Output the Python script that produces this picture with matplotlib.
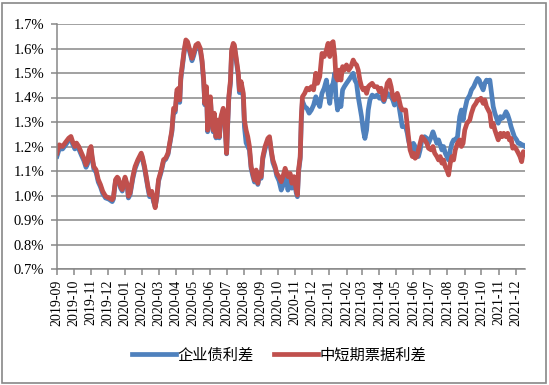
import numpy as np
import pandas as pd
import matplotlib
matplotlib.use('Agg')
import matplotlib.pyplot as plt
import matplotlib.dates as mdates
from matplotlib.patches import Rectangle

plt.rcParams['font.family'] = ['Liberation Serif', 'DejaVu Serif']

# 数据：相对 2019-09-01 的天数，利差（%）
start = pd.Timestamp('2019-09-01')
days = [0, 4, 10, 15, 21, 25, 28, 32, 35, 39, 44, 48, 52, 55, 58, 61, 63, 66, 70, 74,
        78, 82, 87, 93, 99, 101, 105, 108, 110, 114, 117, 119, 122, 126, 128, 131, 136, 140, 145, 151,
        153, 157, 160, 163, 166, 170, 173, 176, 179, 182, 187, 191, 195, 199,
        206, 209, 212, 215, 218, 220, 222, 225, 228, 231, 234, 238, 242, 245, 249, 253, 257, 260, 263, 265,
        268, 270, 273, 275, 277, 280, 282, 285, 288, 291, 294, 298, 301, 304, 306, 308, 311, 313, 316, 318,
        321, 325, 327, 330, 334, 336, 339, 342, 345, 348, 351, 354, 357, 360, 363, 366, 369, 373, 378, 381,
        384, 387, 391, 394, 398, 402, 405, 409,
        414, 418, 421, 425, 429, 431, 433, 436, 438, 440, 444, 448, 452, 456, 460, 464, 467, 471, 475, 479,
        483, 486, 489, 492, 495, 498, 500, 503, 506, 509, 512, 515, 519, 523, 527, 531, 534, 537, 540, 543,
        546, 549, 552, 555, 558, 561, 565, 569, 574, 578, 581, 586, 589, 592, 596, 599, 602, 605, 610, 612,
        616, 619,
        625, 628, 630, 633, 637, 639, 642, 645, 648, 651, 654, 659, 663, 666, 671, 674, 677, 681, 684, 687,
        690, 693, 696, 699, 702, 705, 708, 711, 714, 718, 722, 725, 728, 731, 735, 740, 743, 747, 751, 754,
        757, 760, 764, 767, 770, 773, 776, 779, 782, 785, 788, 791, 795, 798, 801, 805, 808, 811, 814, 817,
        820, 824, 827, 830, 833, 836, 839]

# 企业债利差
corp = [1.160, 1.190, 1.190, 1.205, 1.225, 1.232, 1.210, 1.190, 1.205, 1.190,
        1.163, 1.143, 1.115, 1.130, 1.177, 1.190, 1.150, 1.108, 1.095, 1.055,
        1.035, 1.008, 0.990, 0.985, 0.975, 0.985, 1.060, 1.070, 1.065, 1.030,
        1.018, 1.045, 1.068, 1.036, 0.990, 1.003, 1.070, 1.110, 1.140, 1.165,
        1.152, 1.110, 1.070, 1.030, 0.995, 1.008, 0.975, 0.955, 0.990, 1.058,
        1.098, 1.140, 1.148, 1.168,
        1.260, 1.345, 1.340, 1.420, 1.430, 1.380, 1.475, 1.530, 1.585, 1.625,
        1.620, 1.585, 1.550, 1.570, 1.605, 1.610, 1.590, 1.545, 1.460, 1.370,
        1.435, 1.260, 1.330, 1.395, 1.315, 1.260, 1.330, 1.235, 1.300, 1.235,
        1.315, 1.350, 1.300, 1.170, 1.290, 1.395, 1.460, 1.580, 1.610, 1.605,
        1.555, 1.490, 1.420, 1.455, 1.400, 1.280, 1.215, 1.200, 1.185, 1.110,
        1.080, 1.055, 1.095, 1.045, 1.080, 1.070, 1.150, 1.190, 1.225, 1.230,
        1.180, 1.135, 1.110, 1.080, 1.060, 1.022, 1.040, 1.100,
        1.022, 1.060, 1.030, 1.060, 1.010, 0.995, 1.095, 1.150, 1.310, 1.385,
        1.363, 1.356, 1.336, 1.349, 1.369, 1.403, 1.383, 1.363, 1.417, 1.438,
        1.471, 1.417, 1.376, 1.444, 1.458, 1.499, 1.403, 1.349, 1.390, 1.363,
        1.431, 1.444, 1.458, 1.471, 1.485, 1.499, 1.471, 1.458, 1.403, 1.363,
        1.322, 1.267, 1.233, 1.267, 1.349, 1.390, 1.410, 1.403, 1.410, 1.397,
        1.403, 1.383, 1.403, 1.417, 1.410, 1.403, 1.390, 1.369, 1.390, 1.380,
        1.322, 1.281,
        1.281, 1.254, 1.227, 1.200, 1.186, 1.213, 1.200, 1.173, 1.159, 1.186,
        1.227, 1.240, 1.233, 1.213, 1.240, 1.260, 1.240, 1.213, 1.227, 1.206,
        1.186, 1.200, 1.173, 1.159, 1.145, 1.186, 1.213, 1.227, 1.227, 1.240,
        1.322, 1.349, 1.308, 1.349, 1.390, 1.410, 1.431, 1.444, 1.465, 1.478,
        1.471, 1.451, 1.431, 1.458, 1.471, 1.465, 1.471, 1.417, 1.363, 1.336,
        1.315, 1.295, 1.322, 1.315, 1.322, 1.342, 1.329, 1.308, 1.281, 1.260,
        1.240, 1.227, 1.213, 1.213, 1.206, 1.206, 1.200]

# 中短期票据利差
mtn = [1.173, 1.207, 1.200, 1.216, 1.234, 1.241, 1.220, 1.200, 1.214, 1.200,
       1.173, 1.153, 1.125, 1.140, 1.187, 1.200, 1.159, 1.118, 1.105, 1.065,
       1.044, 1.017, 0.997, 0.990, 0.983, 0.990, 1.065, 1.075, 1.070, 1.037,
       1.024, 1.051, 1.075, 1.044, 0.997, 1.010, 1.078, 1.118, 1.146, 1.173,
       1.159, 1.118, 1.078, 1.037, 1.003, 1.017, 0.983, 0.950, 0.997, 1.065,
       1.105, 1.146, 1.153, 1.173,
       1.267, 1.356, 1.349, 1.431, 1.438, 1.390, 1.485, 1.539, 1.594, 1.635,
       1.628, 1.594, 1.560, 1.580, 1.614, 1.621, 1.600, 1.553, 1.471, 1.376,
       1.444, 1.267, 1.336, 1.403, 1.322, 1.267, 1.336, 1.240, 1.308, 1.240,
       1.322, 1.356, 1.308, 1.172, 1.295, 1.403, 1.471, 1.594, 1.621, 1.614,
       1.567, 1.499, 1.431, 1.465, 1.417, 1.308, 1.267, 1.240, 1.200, 1.118,
       1.090, 1.063, 1.104, 1.050, 1.090, 1.077, 1.158, 1.200, 1.233, 1.240,
       1.186, 1.145, 1.118, 1.090, 1.077, 1.056, 1.077, 1.111,
       1.077, 1.090, 1.050, 1.077, 1.022, 1.002, 1.104, 1.158, 1.322, 1.403,
       1.417, 1.438, 1.431, 1.444, 1.431, 1.499, 1.458, 1.485, 1.580, 1.567,
       1.594, 1.621, 1.567, 1.621, 1.628, 1.567, 1.485, 1.471, 1.512, 1.471,
       1.526, 1.512, 1.533, 1.512, 1.526, 1.553, 1.539, 1.533, 1.512, 1.471,
       1.444, 1.431, 1.438, 1.417, 1.444, 1.451, 1.458, 1.444, 1.444, 1.424,
       1.438, 1.390, 1.417, 1.458, 1.471, 1.444, 1.403, 1.390, 1.417, 1.403,
       1.363, 1.349,
       1.349, 1.281, 1.240, 1.186, 1.159, 1.173, 1.152, 1.159, 1.186, 1.213,
       1.240, 1.227, 1.213, 1.193, 1.186, 1.200, 1.173, 1.159, 1.145, 1.159,
       1.132, 1.145, 1.118, 1.104, 1.084, 1.132, 1.159, 1.145, 1.186, 1.213,
       1.227, 1.200, 1.213, 1.267, 1.295, 1.308, 1.336, 1.363, 1.376, 1.390,
       1.390, 1.397, 1.376, 1.390, 1.363, 1.349, 1.336, 1.281, 1.295, 1.267,
       1.247, 1.227, 1.254, 1.240, 1.254, 1.240, 1.254, 1.227, 1.233, 1.193,
       1.200, 1.186, 1.173, 1.159, 1.138, 1.179, 1.173]

dates = start + pd.to_timedelta(days, unit='D')

grid_c = '#878787'

fig = plt.figure(figsize=(5.49, 3.85), dpi=100)
ax = fig.add_axes([57 / 549, 1 - 269 / 385, 468 / 549, 245 / 385])

ax.plot(dates, corp, color='#4F81BD', lw=3.4, label='企业债利差', solid_joinstyle='round')
ax.plot(dates, mtn, color='#C0504D', lw=3.4, label='中短期票据利差', solid_joinstyle='round')

ax.set_ylim(0.7, 1.7)
ax.set_yticks(np.arange(0.7, 1.71, 0.1))
ax.yaxis.set_major_formatter(plt.FuncFormatter(lambda v, p: f'{v:.1f}%'))
ax.set_xlim(dates[0], dates[-1])
ax.xaxis.set_major_locator(mdates.MonthLocator())
ax.xaxis.set_major_formatter(mdates.DateFormatter('%Y-%m'))

ax.grid(axis='y', color=grid_c, lw=1.1)
ax.set_axisbelow(True)
for s in ['top', 'right']:
    ax.spines[s].set_visible(False)
for s in ['left', 'bottom']:
    ax.spines[s].set_color(grid_c)
    ax.spines[s].set_linewidth(1.1)
ax.tick_params(direction='out', length=4, color=grid_c, width=1.1)
ax.tick_params(axis='y', pad=5, labelsize=10.5)
ax.tick_params(axis='x', labelsize=10, labelrotation=90)

fig.legend(loc='center', bbox_to_anchor=(279 / 549, 1 - 355 / 385), ncol=2, frameon=False,
           prop={'family': ['Noto Sans CJK SC', 'DejaVu Sans'], 'size': 11},
           handlelength=2.9, handletextpad=0.1, columnspacing=1.3)

# 外框
fig.patches.append(Rectangle((1.5 / 549, 2.5 / 385), 544.5 / 549, 380 / 385,
                             transform=fig.transFigure, fill=False,
                             edgecolor='#888888', lw=1.2))

fig.savefig('out.png', dpi=100)
